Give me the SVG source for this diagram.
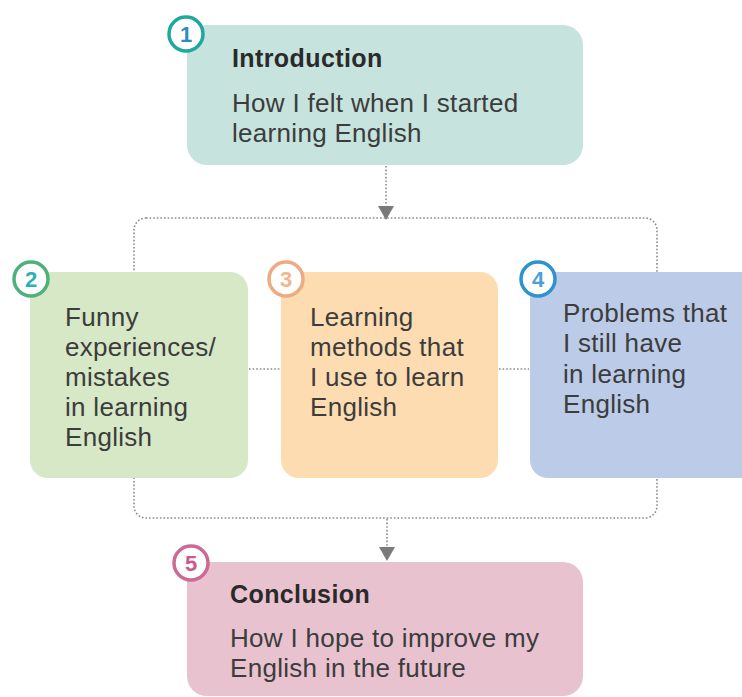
<svg xmlns="http://www.w3.org/2000/svg" width="742" height="697" viewBox="0 0 742 697">
<style>
.box{stroke:none}
.title{font-family:"Liberation Sans",Arial,sans-serif;font-size:25px;font-weight:bold;letter-spacing:0.4px;fill:#2a2a2a}
.body{font-family:"Liberation Sans",Arial,sans-serif;font-size:26px;letter-spacing:0.3px;fill:#3c3c3c}
.num{font-family:"Liberation Sans",Arial,sans-serif;font-size:22px;font-weight:bold;text-anchor:middle}
.badge{fill:#ffffff;stroke-width:3.5}
.dot{fill:none;stroke:#8a8a8a;stroke-width:1.6;stroke-dasharray:1.6 2}
</style>
<rect width="742" height="697" fill="#ffffff"/>
<g id="connectors">
<rect class="dot" x="134" y="218" width="523" height="300" rx="12"/>
<line class="dot" x1="386" y1="166" x2="386" y2="205"/>
<path d="M378,206 L394,206 L386,220 Z" fill="#7a7a7a"/>
<line class="dot" x1="387" y1="519" x2="387" y2="547"/>
<path d="M379,547 L395,547 L387,561 Z" fill="#7a7a7a"/>
<line class="dot" x1="249" y1="369" x2="281" y2="369"/>
<line class="dot" x1="499" y1="369" x2="529" y2="369"/>
</g>
<g id="node1">
<rect class="box" x="187" y="25" width="396" height="140" rx="20" fill="#c6e3dd"/>
<circle class="badge" cx="186" cy="34" r="17" stroke="#1fa8a0"/>
<text class="num" x="186" y="42" fill="#2a8fc0">1</text>
<text class="title" x="232" y="67">Introduction</text>
<text class="body" x="232" y="112">How I felt when I started</text>
<text class="body" x="232" y="142">learning English</text>
</g>
<g id="node2">
<rect class="box" x="30" y="272" width="218" height="206" rx="18" fill="#d6e8c6"/>
<circle class="badge" cx="31" cy="279" r="17" stroke="#4cb27a"/>
<text class="num" x="31" y="287" fill="#2ab0b8">2</text>
<text class="body" x="65" y="326">Funny</text>
<text class="body" x="65" y="356">experiences/</text>
<text class="body" x="65" y="386">mistakes</text>
<text class="body" x="65" y="416">in learning</text>
<text class="body" x="65" y="446">English</text>
</g>
<g id="node3">
<rect class="box" x="281" y="272" width="217" height="206" rx="18" fill="#fddcb1"/>
<circle class="badge" cx="286" cy="279" r="17" stroke="#eeaa80"/>
<text class="num" x="286" y="287" fill="#f2b48a">3</text>
<text class="body" x="310" y="326">Learning</text>
<text class="body" x="310" y="356">methods that</text>
<text class="body" x="310" y="386">I use to learn</text>
<text class="body" x="310" y="416">English</text>
</g>
<g id="node4">
<rect class="box" x="530" y="272" width="230" height="206" rx="18" fill="#bccbe8"/>
<circle class="badge" cx="538" cy="279" r="17" stroke="#2d93cf"/>
<text class="num" x="538" y="287" fill="#4aa0d8">4</text>
<text class="body" x="563" y="322">Problems that</text>
<text class="body" x="563" y="352">I still have</text>
<text class="body" x="563" y="383">in learning</text>
<text class="body" x="563" y="413">English</text>
</g>
<g id="node5">
<rect class="box" x="187" y="562" width="396" height="134" rx="20" fill="#e9c2d0"/>
<circle class="badge" cx="191" cy="563" r="17" stroke="#cc6a95"/>
<text class="num" x="191" y="571" fill="#cc5a8a">5</text>
<text class="title" x="230" y="603">Conclusion</text>
<text class="body" x="230" y="647">How I hope to improve my</text>
<text class="body" x="230" y="677">English in the future</text>
</g>
</svg>
